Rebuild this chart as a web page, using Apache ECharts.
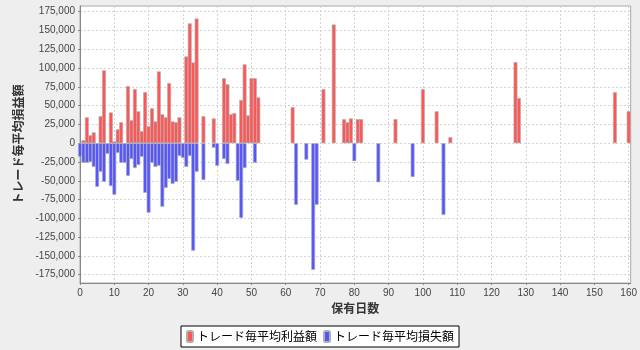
<!DOCTYPE html>
<html>
<head>
<meta charset="utf-8">
<script src="https://cdn.jsdelivr.net/npm/echarts@6/dist/echarts.min.js"></script>
<style>
html,body{margin:0;padding:0;background:#eeeeee;}
#chart{width:640px;height:350px;}
</style>
</head>
<body>
<div id="chart"></div>
<script>
// Holding days and average profit per trade (red)
var profitDays = [1,2,3,4,6,7,9,10,11,12,14,15,16,17,18,19,20,21,22,23,24,25,26,27,28,29,31,32,33,34,36,39,42,43,44,45,47,48,49,50,51,52,62,71,74,77,78,79,81,82,92,100,104,108,127,128,156,160];
var profitValues = [4000,34500,10500,14500,36000,97000,41000,2700,18500,28000,76000,30500,72000,42500,16000,68000,22500,46500,29000,95500,38500,34500,80000,29000,28000,34500,115500,159500,107500,166000,36000,33000,86500,78500,38500,40000,57500,105000,37000,86500,86500,61000,48000,72000,158000,32000,28000,33000,32000,32000,32000,72000,42500,8000,108000,60000,68000,42500];
// Holding days and average loss per trade (blue)
var lossDays = [0,1,2,3,4,5,6,7,8,9,10,11,12,13,14,15,16,17,18,19,20,21,22,23,24,25,26,27,28,29,30,31,32,33,34,36,39,40,42,43,46,47,48,51,63,66,68,69,80,87,97,106];
var lossValues = [-18000,-26000,-26000,-25000,-31500,-58000,-38000,-51500,-14000,-57000,-68500,-13000,-26000,-26000,-43500,-21000,-33000,-29000,-18000,-66000,-92500,-26000,-31500,-30000,-84500,-59500,-47500,-54000,-51500,-17000,-19500,-31500,-17000,-143000,-38000,-49000,-6000,-30000,-21000,-27500,-50000,-99500,-33000,-26000,-82000,-22000,-168500,-82000,-24000,-52000,-45000,-95500];
var yTicks = [-175000,-150000,-125000,-100000,-75000,-50000,-25000,0,25000,50000,75000,100000,125000,150000,175000];
var xTicks = [0,10,20,30,40,50,60,70,80,90,100,110,120,130,140,150,160];
var seriesNames = ['トレード毎平均利益額','トレード毎平均損失額'];
var yTitle = 'トレード毎平均損益額';
var xTitle = '保有日数';

function zip(a,b){ return a.map(function(v,i){ return [v,b[i]]; }); }

var chart = echarts.init(document.getElementById('chart'), null, {renderer:'canvas'});
var font = 'Liberation Sans, Arial, sans-serif';
var axisGray = '#888888';
var gridColor = '#d4d4d4';
chart.setOption({
  backgroundColor:'#eeeeee',
  animation:false,
  textStyle:{fontFamily:font},
  grid:{left:80,right:8,top:6,bottom:67,show:true,backgroundColor:'#ffffff',borderColor:'#aaaaaa',borderWidth:1},
  legend:{
    bottom:3,left:'center',
    data:seriesNames,
    backgroundColor:'#ffffff',borderColor:'#000000',borderWidth:1,
    padding:[4,5,4,5],
    itemWidth:6,itemHeight:11,itemGap:6,
    textStyle:{fontSize:12,color:'#000',fontFamily:'Noto Sans CJK JP, sans-serif',padding:[0,0,0,-1]}
  },
  xAxis:{
    type:'value',min:0,max:160.6,
    name:xTitle,nameLocation:'middle',nameGap:12,
    nameTextStyle:{fontSize:12,fontWeight:'bold',color:'#333',fontFamily:'Noto Sans CJK JP, sans-serif'},
    axisLine:{show:true,onZero:false,lineStyle:{color:axisGray}},
    axisTick:{show:true,length:2,customValues:xTicks,lineStyle:{color:axisGray}},
    axisLabel:{customValues:xTicks,fontSize:10,color:'#444',margin:5},
    splitLine:{show:true,lineStyle:{color:gridColor,type:[2,2]}}
  },
  yAxis:{
    type:'value',min:-186000,max:182600,
    name:yTitle,nameLocation:'middle',nameGap:56,nameRotate:90,
    nameTextStyle:{fontSize:12,fontWeight:'bold',color:'#333',fontFamily:'Noto Sans CJK JP, sans-serif'},
    axisLine:{show:true,onZero:false,lineStyle:{color:axisGray}},
    axisTick:{show:true,length:2,customValues:yTicks,lineStyle:{color:axisGray}},
    axisLabel:{customValues:yTicks,fontSize:10,color:'#444',margin:5,
      formatter:function(v){ return Number(v).toLocaleString('en-US'); }},
    splitLine:{show:true,lineStyle:{color:gridColor,type:[2,2]}}
  },
  series:[
    {name:seriesNames[0],type:'bar',data:zip(profitDays,profitValues),barWidth:3.9,barGap:'-100%',
     itemStyle:{color:'#ff5555',borderColor:'#b0b0b0',borderWidth:0.7}},
    {name:seriesNames[1],type:'bar',data:zip(lossDays,lossValues),barWidth:3.9,barGap:'-100%',
     itemStyle:{color:'#5555ff',borderColor:'#b0b0b0',borderWidth:0.7}}
  ]
});
</script>
</body>
</html>
